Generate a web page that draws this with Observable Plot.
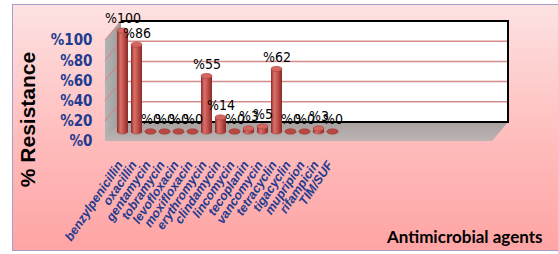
<!DOCTYPE html>
<html><head><meta charset="utf-8">
<script src="https://cdn.jsdelivr.net/npm/d3@7"></script>
<script src="https://cdn.jsdelivr.net/npm/@observablehq/plot@0.6"></script>
<style>
html,body{margin:0;padding:0;background:#fff;}
#wrap{position:relative;width:558px;height:254px;overflow:hidden;}
#panel{position:absolute;left:12px;top:4px;width:560px;height:245px;border:1.5px solid #a59dca;background:linear-gradient(#fde2e2,#ffbcbc 55%,#ffa4a4);}
#chart{position:absolute;left:0;top:0;}
</style></head><body><div id="wrap"><div id="panel"></div><div id="chart"></div></div>
<script>
const drugs = ["benzylpenicillin","oxacillin","gentamycin","tobramycin","levofloxacin","moxifloxacin","erythromycin","clindamycin","lincomycin","tecoplanin","vancomycin","tetracyclin","tigacyclin","mupripion","rifampicin","TIM/SUF"];
const resistance = [100,86,0,0,0,0,55,14,0,3,5,62,0,0,3,0];
const yTicks = [0,20,40,60,80,100];
const yTitle = "% Resistance";
const xTitle = "Antimicrobial agents";

const data = drugs.map((drug,i)=>({drug, value: resistance[i]}));
const DX = 16, DY = -19;   // depth of back wall
const BX = 8, BY = -9.5;   // depth of bars
const NARROW = "'Liberation Sans Narrow','DejaVu Sans Condensed','Liberation Sans',sans-serif";
const NAVY = "#223b8f";

function bw(x){ return typeof x.bandwidth === "function" ? x.bandwidth() : x.bandwidth; }

function scene(index, scales, values, dims) {
  const L = dims.marginLeft, R = dims.width - dims.marginRight, T = dims.marginTop, B = dims.height - dims.marginBottom;
  const y = scales.y;
  const g = d3.create("svg:g");
  g.append("rect").attr("x", L+DX).attr("y", T+DY).attr("width", R-L).attr("height", B-T).attr("fill", "white");
  for (const t of yTicks.slice(1, -1)) {
    const yy = y(t) + DY;
    g.append("line").attr("x1", L+DX).attr("x2", R+DX).attr("y1", yy).attr("y2", yy).attr("stroke", "#d48c8c").attr("stroke-width", 1.5);
  }
  g.append("path").attr("d", `M${L},${T}L${L+DX},${T+DY}L${L+DX},${B+DY}L${L},${B}Z`).attr("fill", "url(#sideGrad)");
  for (const t of yTicks.slice(1)) {
    const yy = y(t);
    g.append("line").attr("x1", L).attr("x2", L+DX).attr("y1", yy).attr("y2", yy+DY).attr("stroke", "#e07a7a").attr("stroke-width", 1);
  }
  g.append("path").attr("d", `M${L},${B}L${R},${B}L${R+DX},${B+DY}L${L+DX},${B+DY}Z`).attr("fill", "url(#floorGrad)");
  g.append("path").attr("d", `M${L+DX},${T+DY}L${R+DX},${T+DY}L${R+DX},${B+DY}L${L+DX},${B+DY}`).attr("fill", "none").attr("stroke", "black").attr("stroke-width", 2);
  return g.node();
}

function ellipses(which) {
  return (index, scales) => {
    const x = scales.x, y = scales.y, w = bw(x);
    const g = d3.create("svg:g");
    for (const d of data) {
      const cx = x(d.drug) + w/2 + BX;
      const cy = (which === "top" ? y(d.value) : y(0)) + BY;
      g.append("ellipse").attr("cx", cx).attr("cy", cy).attr("rx", w/2).attr("ry", 2.6)
        .attr("fill", which === "top" ? (d.value === 0 ? "#b94843" : "#d4665f") : "url(#cylGrad)")
        .attr("stroke", "#9c3a36").attr("stroke-width", 0.5);
    }
    return g.node();
  };
}

const chart = Plot.plot({
  width: 558, height: 254,
  marginLeft: 105, marginRight: 66, marginTop: 40, marginBottom: 113,
  x: {type: "band", domain: drugs, range: [103.35, 335.4], padding: 0.23, axis: null},
  y: {domain: [0, 100], axis: null},
  style: {background: "transparent", overflow: "visible"},
  marks: [
    scene,
    Plot.axisY(yTicks, {tickFormat: d => "%" + d, tickSize: 0, tickPadding: 13, fontSize: 15, fontWeight: "bold", fill: NAVY, color: NAVY, fontFamily: NARROW, label: null}),
    ellipses("base"),
    Plot.barY(data, {x: "drug", y: "value", dx: BX, dy: BY, fill: "url(#cylGrad)"}),
    ellipses("top"),
    Plot.text(data, {x: "drug", y: "value", text: d => "%" + d.value, dx: BX, dy: BY - 12, fontSize: 14, fill: "black", fontFamily: NARROW}),
    Plot.text(data, {x: "drug", frameAnchor: "bottom", text: "drug", dx: 5, dy: 21, rotate: -56, textAnchor: "end", lineAnchor: "middle", fontSize: 12.5, fontWeight: "bold", fontStyle: "italic", fill: NAVY, fontFamily: "'Liberation Sans',Arial,sans-serif"}),
    Plot.text([yTitle], {frameAnchor: "left", dx: -77, dy: 28.5, rotate: -90, textAnchor: "middle", lineAnchor: "middle", fontSize: 21, fontWeight: "bold", fill: "black", fontFamily: "'Liberation Sans',Arial,sans-serif"}),
    Plot.text([xTitle], {frameAnchor: "bottom-right", dx: 50, dy: 96.5, textAnchor: "end", lineAnchor: "middle", fontSize: 17, fontWeight: "bold", fill: "black", fontFamily: "Lato,'Liberation Sans',sans-serif"})
  ]
});

const defs = d3.create("svg:defs");
const cyl = defs.append("linearGradient").attr("id", "cylGrad").attr("x1", "0").attr("x2", "1").attr("y1", "0").attr("y2", "0");
[[0,"#8e2b28"],[0.3,"#d8706a"],[0.5,"#cc5c56"],[1,"#8a2926"]].forEach(([o,c]) => cyl.append("stop").attr("offset", o).attr("stop-color", c));
const side = defs.append("linearGradient").attr("id", "sideGrad").attr("x1", "0").attr("x2", "1");
[[0,"#b4b4b4"],[1,"#9a9a9a"]].forEach(([o,c]) => side.append("stop").attr("offset", o).attr("stop-color", c));
const floor = defs.append("linearGradient").attr("id", "floorGrad").attr("x1", "0").attr("x2", "0").attr("y1", "0").attr("y2", "1");
[[0,"#a9a0a0"],[1,"#bcb3b3"]].forEach(([o,c]) => floor.append("stop").attr("offset", o).attr("stop-color", c));
chart.insertBefore(defs.node(), chart.firstChild);
document.getElementById("chart").appendChild(chart);
</script>
</body></html>
